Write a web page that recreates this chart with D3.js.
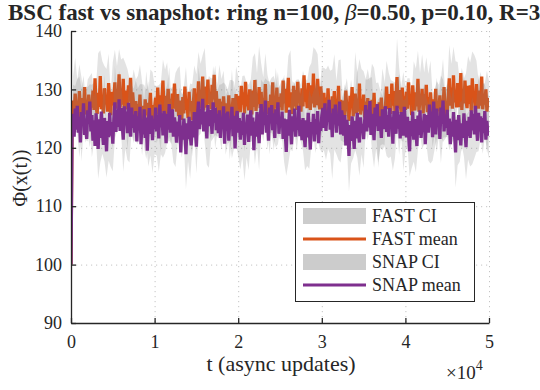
<!DOCTYPE html>
<html>
<head>
<meta charset="utf-8">
<script src="https://cdn.jsdelivr.net/npm/d3@7"></script>
<style>
  body { margin: 0; background: #fff; }
  text { font-family: "Liberation Serif", "Times New Roman", serif; fill: #262626; }
</style>
</head>
<body>
<script>
var width = 540,
    height = 390;

// sample spacing along t (async updates): means every 125, CI every 250
var meanStep = 125,
    ciStep = 250;

var fastMean = [100,
  124.6,128.1,125.9,129.3,126.4,127.8,125.2,129.7,126.8,124.9,128.5,126.1,130.4,125.7,127.9,126.3,129.1,125.5,128.2,126.9,
  129.8,126.5,131.9,127.2,125.8,129.4,127.0,132.3,126.6,128.7,125.9,130.2,127.5,129.0,126.2,131.1,127.8,125.6,129.6,127.3,
  128.4,131.2,126.7,130.0,127.6,132.6,126.9,129.3,127.4,131.8,126.1,129.8,128.2,126.6,130.7,127.9,132.0,126.8,129.5,127.1,
  125.3,128.0,124.7,127.5,125.9,129.1,124.4,127.2,126.1,123.9,128.3,125.6,127.7,124.9,126.8,129.4,125.1,127.3,124.6,126.9,
  128.6,125.7,130.3,126.4,129.0,125.2,128.2,131.5,126.3,128.9,125.8,127.6,130.1,126.0,128.4,125.5,129.3,126.7,131.0,127.4,
  126.2,129.2,125.4,128.1,126.9,124.8,128.7,125.9,130.5,126.5,127.8,125.1,129.6,126.3,128.0,124.7,127.4,130.2,125.8,128.3,
  127.7,131.4,126.8,129.9,127.3,132.2,126.4,130.5,128.1,126.9,131.7,127.5,129.4,126.6,130.8,128.3,132.5,127.0,129.7,126.7,
  125.6,128.4,124.5,127.9,125.1,128.8,126.2,123.8,127.6,125.3,129.0,124.9,127.2,125.8,128.5,124.2,126.7,129.2,125.4,127.1,
  128.9,126.1,130.6,127.4,129.5,125.9,131.3,127.1,128.6,126.4,130.0,127.8,125.7,129.8,127.0,131.6,126.3,128.8,127.5,130.4,
  126.8,129.6,125.5,128.5,126.2,130.9,125.8,128.0,127.2,124.9,129.1,126.6,131.2,125.6,128.4,126.9,130.3,125.3,128.7,127.0,
  129.3,126.4,131.5,127.6,130.1,126.0,128.7,132.0,126.9,129.5,127.3,125.8,130.6,127.1,129.9,126.5,131.3,127.8,128.9,126.2,
  130.2,127.1,132.4,127.9,129.6,126.8,131.1,128.3,126.5,130.7,127.6,132.7,126.9,129.4,127.3,131.8,128.0,126.6,130.5,127.8,
  126.5,129.4,125.3,128.6,126.1,130.2,125.7,127.9,124.8,128.8,126.6,129.7,125.2,127.4,126.0,130.6,125.6,128.2,126.9,124.9,
  128.1,125.5,129.8,126.3,127.7,124.6,128.9,126.8,130.4,125.4,127.5,129.3,125.9,128.4,126.2,131.0,125.7,127.8,126.4,129.1,
  125.2,127.9,124.6,128.5,125.8,126.9,124.3,128.2,125.5,129.4,124.9,127.3,126.0,123.9,127.8,125.1,128.6,124.7,127.0,125.6,
  127.4,130.5,126.6,129.2,127.9,125.8,131.0,127.2,129.7,126.3,128.6,132.1,126.8,129.9,127.5,125.9,130.3,127.0,128.8,126.5,
  129.6,126.7,131.2,127.4,128.9,125.6,130.7,127.8,126.4,129.5,127.1,131.8,126.2,128.5,127.6,130.1,125.9,129.2,127.3,130.8,
  126.1,128.7,125.4,129.5,126.6,124.7,128.3,126.0,130.1,125.3,127.8,126.4,129.0,124.9,128.1,126.7,130.4,125.6,127.5,126.2,
  128.8,131.9,127.2,130.3,126.7,132.4,127.8,129.6,126.9,131.1,128.4,127.0,132.8,126.5,129.9,127.6,131.5,128.1,126.8,130.6,
  127.5,130.7,126.3,131.9,127.9,129.2,126.1,130.9,128.3,126.7,129.8,127.2,132.2,126.6,128.9,127.4,130.0,126.2,128.5,127.0];

var snapMean = [100,
  122.4,125.8,121.9,126.7,123.1,127.2,122.6,125.3,120.9,126.1,123.8,127.6,122.2,125.0,121.5,126.4,124.1,127.9,122.8,125.6,
  121.2,124.7,120.3,125.9,122.4,119.8,124.9,121.7,126.2,122.9,120.5,125.1,123.3,119.4,124.6,121.8,126.0,122.1,124.4,120.7,
  124.9,127.8,122.7,126.5,123.6,128.3,122.9,126.8,124.2,121.4,127.1,123.9,126.2,122.5,127.7,124.6,121.9,126.9,123.4,125.7,
  122.6,126.3,121.1,125.4,123.0,127.0,120.6,124.8,122.3,126.6,121.7,125.2,119.5,124.1,126.8,122.4,125.5,121.3,124.9,123.2,
  126.9,122.8,125.7,121.6,127.4,123.5,125.9,122.1,126.3,124.4,120.8,125.8,123.1,127.5,122.6,124.7,126.6,121.9,125.2,123.7,
  120.9,124.5,122.0,125.6,119.2,123.8,121.4,125.0,122.7,118.9,124.2,121.5,125.3,122.3,120.4,124.6,121.8,126.1,122.9,120.2,
  125.4,127.9,123.2,126.7,124.0,128.4,122.8,126.2,124.9,121.6,127.3,123.7,126.5,125.1,122.4,127.8,124.3,126.9,123.0,125.8,
  122.5,126.4,121.7,125.3,123.6,127.1,120.7,125.9,122.9,126.2,121.2,124.8,123.4,127.0,122.0,125.5,119.9,124.7,126.3,122.6,
  125.1,121.4,124.6,122.2,126.0,120.5,124.3,122.8,125.7,121.0,123.9,126.4,122.1,125.2,119.6,124.5,121.9,126.1,123.3,120.8,
  124.8,127.5,122.3,126.1,123.9,128.1,122.6,125.6,121.2,126.9,124.2,127.3,123.0,125.9,121.7,126.6,124.5,127.8,122.4,125.3,
  123.6,126.2,121.5,125.0,122.7,119.3,124.9,122.1,126.5,123.4,120.6,125.4,122.8,126.7,121.9,124.6,123.1,127.2,122.0,124.8,
  121.3,125.1,122.4,120.1,124.7,121.8,126.0,123.2,119.7,124.4,122.6,125.8,121.1,124.9,122.3,126.3,120.8,124.2,122.9,125.5,
  126.8,123.4,127.6,122.9,126.1,124.5,128.2,123.1,125.9,121.8,126.7,124.0,127.4,122.6,125.5,123.8,127.9,122.3,126.4,124.7,
  122.1,125.6,120.4,124.8,122.6,118.6,123.9,121.2,125.4,122.8,119.8,124.6,121.6,126.0,122.4,120.9,125.2,122.7,124.1,121.5,
  124.6,127.3,122.8,126.5,123.5,128.0,122.2,125.8,124.1,121.3,126.9,123.7,127.5,122.9,125.4,124.3,121.7,126.6,123.2,125.9,
  127.1,122.7,125.6,121.9,126.8,123.6,125.2,120.7,126.3,124.0,122.4,127.2,123.3,125.7,121.6,126.1,124.4,122.1,127.0,123.8,
  121.8,125.3,122.5,119.4,124.6,122.0,126.2,121.4,124.9,123.1,120.3,125.5,122.2,126.4,121.7,124.3,122.9,125.8,120.6,124.7,
  125.6,122.6,127.4,123.5,126.2,121.8,127.9,124.4,122.3,126.7,123.9,125.4,121.5,126.9,124.1,128.1,122.8,125.7,123.4,126.5,
  122.2,125.0,120.6,124.5,121.9,126.1,122.4,119.2,124.8,121.3,125.6,122.7,120.4,124.2,121.7,125.9,122.9,120.1,124.6,122.0,
  125.3,121.7,126.4,123.0,125.8,122.3,127.2,123.7,121.2,126.0,122.8,125.4,120.9,125.1,122.5,126.3,121.4,124.6,122.1,123.5];

// half width of the confidence bands (every 250 updates)
var fastHalf = [0,
  4.2,6.1,3.8,4.6,7.2,3.5,4.8,4.1,5.4,3.9,
  4.7,3.6,6.8,4.4,6.1,3.8,4.5,5.0,3.7,7.4,
  5.6,4.0,4.3,5.8,3.6,4.7,6.9,3.9,4.4,6.3,
  3.7,4.8,5.1,4.2,3.9,7.5,4.6,4.0,5.7,3.8,
  4.9,4.3,6.0,3.6,4.5,7.0,4.1,4.8,3.7,5.4,
  4.4,5.9,3.8,4.6,7.3,4.0,4.7,6.2,3.9,4.3,
  5.0,4.5,3.7,6.6,4.2,4.8,5.3,3.6,7.1,4.1,
  5.8,3.9,4.4,5.0,4.6,3.8,7.6,4.3,4.7,5.2,
  3.7,4.9,6.5,4.1,4.4,3.8,5.7,4.6,4.0,7.0,
  4.8,3.6,5.3,4.5,6.0,3.9,4.2,6.8,4.7,3.8,
  5.4,4.3,4.9,3.7,7.2,4.4,4.1,5.2,3.9,4.6,
  6.1,4.0,4.7,5.5,3.8,4.5,7.4,4.2,3.7,5.9,
  4.3,4.8,3.9,5.3,4.6,6.3,4.1,4.4,6.9,3.8,
  4.7,5.6,4.0,4.9,3.6,7.1,4.5,4.2,5.7,4.0,
  3.9,5.0,4.6,6.2,4.3,3.8,7.3,4.7,4.1,5.1,
  4.4,3.7,5.8,4.2,4.9,6.6,3.9,4.6,6.0,4.0,
  5.2,4.5,3.8,7.0,4.1,4.8,4.3,5.9,3.7,4.7,
  4.0,5.4,4.6,3.9,6.1,4.4,7.5,5.0,3.8,4.3,
  5.7,4.1,4.9,5.2,3.6,4.5,7.2,4.2,4.7,5.1,
  3.9,4.6,6.7,4.0,4.8,5.8,4.3,3.7,7.0,4.4];

var snapHalf = [0,
  5.0,3.9,4.6,6.9,4.1,4.8,3.6,5.3,4.4,7.2,
  3.8,4.7,5.1,4.2,3.9,7.4,4.5,4.0,5.4,4.7,
  6.2,3.7,4.9,4.3,5.5,4.0,4.6,7.1,3.8,4.4,
  5.2,4.8,3.9,6.1,4.2,4.5,7.3,3.7,5.6,4.3,
  4.1,5.7,4.6,3.8,5.3,4.9,6.3,4.0,4.4,7.0,
  3.9,4.7,5.5,4.2,6.0,3.8,7.6,5.2,4.1,4.6,
  5.9,4.3,3.7,5.4,4.5,7.1,4.0,6.2,4.7,3.9,
  4.4,5.6,4.1,4.9,3.8,6.8,4.6,5.8,4.2,4.0,
  5.1,3.7,6.1,4.5,4.8,5.4,3.9,7.3,5.7,4.6,
  4.2,5.0,3.8,5.9,4.4,4.7,6.4,4.0,5.2,3.9,
  4.6,7.5,4.1,4.8,3.7,6.0,4.3,5.1,4.5,3.8,
  5.6,4.0,4.9,6.8,4.2,3.9,5.8,4.6,4.4,6.2,
  3.8,5.0,4.7,4.1,7.2,4.3,3.7,5.9,4.8,4.2,
  5.3,4.5,6.1,3.9,4.6,5.0,7.7,5.7,3.8,4.9,
  4.4,5.2,4.0,6.3,4.7,3.8,5.4,4.3,7.0,5.6,
  4.1,3.7,5.1,4.6,5.8,4.2,6.9,3.9,6.0,4.5,
  5.0,4.3,5.5,3.8,7.3,5.9,4.1,4.4,5.2,3.9,
  4.8,6.2,4.0,4.6,5.3,3.7,4.9,7.1,4.2,4.5,
  5.4,3.9,4.7,6.0,4.3,5.1,3.8,7.4,5.5,4.0,
  4.9,5.8,4.1,4.4,6.6,3.7,6.1,4.5,4.8,5.3];

var xTicks = [0, 10000, 20000, 30000, 40000, 50000];
var xTickLabels = ["0", "1", "2", "3", "4", "5"];
var yTicks = [90, 100, 110, 120, 130, 140];
var legendLabels = ["FAST CI", "FAST mean", "SNAP CI", "SNAP mean"];

var orange = "#D95319",
    purple = "#7E2F8E",
    ink = "#262626";

var x = d3.scaleLinear().domain([0, 50000]).range([71, 489]);
var y = d3.scaleLinear().domain([90, 140]).range([323, 31]);

var svg = d3.select("body").append("svg")
    .attr("width", width)
    .attr("height", height);

svg.append("defs").append("clipPath")
    .attr("id", "plot")
  .append("rect")
    .attr("x", 71).attr("y", 31)
    .attr("width", 418).attr("height", 292);

// grid
var grid = svg.append("g")
    .attr("stroke", "#c4c4c4")
    .attr("stroke-width", 1)
    .attr("stroke-dasharray", "1.2,3.8");

grid.selectAll(".gx")
    .data(xTicks.slice(1))
  .enter().append("line")
    .attr("x1", function(d) { return x(d) + .5; })
    .attr("x2", function(d) { return x(d) + .5; })
    .attr("y1", y(140)).attr("y2", y(90));

grid.selectAll(".gy")
    .data(yTicks.slice(1))
  .enter().append("line")
    .attr("y1", function(d) { return y(d) + .5; })
    .attr("y2", function(d) { return y(d) + .5; })
    .attr("x1", x(0)).attr("x2", x(50000));

function meanPoints(vals) {
  return vals.map(function(v, i) { return { t: i * meanStep, m: v }; });
}

// CI sample i sits at t = i*ciStep, the same t as mean sample 2i
function ciPoints(vals, half) {
  return half.map(function(h, i) {
    var v = vals[i * ciStep / meanStep];
    return { t: i * ciStep, lo: v - h, hi: v + h };
  });
}

var band = d3.area()
    .x(function(d) { return x(d.t); })
    .y0(function(d) { return y(d.lo); })
    .y1(function(d) { return y(d.hi); });

var meanLine = d3.line()
    .x(function(d) { return x(d.t); })
    .y(function(d) { return y(d.m); });

var plot = svg.append("g").attr("clip-path", "url(#plot)");

plot.append("path").datum(ciPoints(fastMean, fastHalf))
    .attr("d", band)
    .attr("fill", "#808080")
    .attr("fill-opacity", 0.22);

plot.append("path").datum(meanPoints(fastMean))
    .attr("d", meanLine)
    .attr("fill", "none")
    .attr("stroke", orange)
    .attr("stroke-width", 3.3);

plot.append("path").datum(ciPoints(snapMean, snapHalf))
    .attr("d", band)
    .attr("fill", "#808080")
    .attr("fill-opacity", 0.22);

plot.append("path").datum(meanPoints(snapMean))
    .attr("d", meanLine)
    .attr("fill", "none")
    .attr("stroke", purple)
    .attr("stroke-width", 3.3);

// axes (MATLAB style: ticks inward, box off)
var xAxis = svg.append("g")
    .attr("transform", "translate(0," + y(90) + ")")
    .call(d3.axisBottom(x).tickValues(xTicks)
      .tickSizeInner(-5).tickSizeOuter(0).tickPadding(12)
      .tickFormat(function(d, i) { return xTickLabels[i]; }));

var yAxis = svg.append("g")
    .attr("transform", "translate(" + x(0) + ",0)")
    .call(d3.axisLeft(y).tickValues(yTicks)
      .tickSizeInner(-5).tickSizeOuter(0).tickPadding(9));

svg.selectAll(".domain, .tick line")
    .attr("stroke", ink)
    .attr("stroke-width", 1.3);

svg.selectAll(".tick text")
    .attr("font-family", "Liberation Serif, serif")
    .attr("font-size", 18)
    .attr("fill", ink);

xAxis.selectAll(".tick text").attr("dy", "0.72em");

// labels
svg.append("text")
    .attr("x", 281)
    .attr("y", 371)
    .attr("text-anchor", "middle")
    .attr("font-size", 22)
    .text("t (async updates)");

var mult = svg.append("text")
    .attr("x", 446)
    .attr("y", 379)
    .attr("font-size", 19);
mult.append("tspan").text("\u00d710");
mult.append("tspan").attr("font-size", 14).attr("dy", -9).text("4");

svg.append("text")
    .attr("transform", "translate(27,178) rotate(-90)")
    .attr("text-anchor", "middle")
    .attr("font-size", 20)
    .text("\u03a6(x(t))");

var title = svg.append("text")
    .attr("x", 8)
    .attr("y", 20)
    .attr("font-size", 23)
    .attr("font-weight", "bold")
    .attr("fill", "#000");
title.append("tspan").text("BSC fast vs snapshot: ring n=100, ");
title.append("tspan").attr("font-style", "italic").attr("font-weight", "normal").text("\u03b2");
title.append("tspan").text("=0.50, p=0.10, R=3");

// legend
var legend = svg.append("g");

legend.append("rect")
    .attr("x", 295.5).attr("y", 202.5)
    .attr("width", 179).attr("height", 99)
    .attr("fill", "#fff")
    .attr("stroke", ink)
    .attr("stroke-width", 1);

var rowY = [216, 239, 262, 285];

var entries = legend.selectAll(".entry")
    .data(legendLabels)
  .enter().append("g")
    .attr("transform", function(d, i) { return "translate(0," + rowY[i] + ")"; });

entries.each(function(d, i) {
  var g = d3.select(this);
  if (i % 2 === 0) {
    g.append("rect")
      .attr("x", 303).attr("y", -8)
      .attr("width", 63).attr("height", 16)
      .attr("fill", "#808080")
      .attr("fill-opacity", 0.4);
  } else {
    g.append("line")
      .attr("x1", 303).attr("x2", 366)
      .attr("stroke", i === 1 ? orange : purple)
      .attr("stroke-width", 3);
  }
  g.append("text")
    .attr("x", 372)
    .attr("y", 6)
    .attr("font-size", 18)
    .text(d);
});
</script>
</body>
</html>
